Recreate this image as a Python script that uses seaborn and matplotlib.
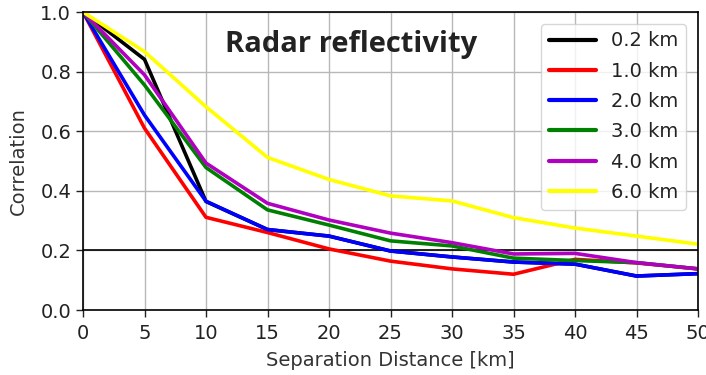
import numpy as np
import pandas as pd
import matplotlib
matplotlib.use("Agg")
import matplotlib.pyplot as plt
import seaborn as sns

# Separation distances (km) and correlation of radar reflectivity per height level
distance = [0, 5, 10, 15, 20, 25, 30, 35, 40, 45, 50]
corr_02 = [1.0, 0.841, 0.364, 0.270, 0.248, 0.198, 0.178, 0.161, 0.154, 0.114, 0.122]
corr_10 = [1.0, 0.610, 0.311, 0.260, 0.205, 0.164, 0.138, 0.120, 0.170, 0.158, 0.138]
corr_20 = [1.0, 0.654, 0.365, 0.270, 0.248, 0.198, 0.178, 0.161, 0.154, 0.114, 0.122]
corr_30 = [1.0, 0.755, 0.478, 0.336, 0.285, 0.232, 0.215, 0.174, 0.166, 0.159, 0.138]
corr_40 = [1.0, 0.789, 0.493, 0.358, 0.302, 0.258, 0.226, 0.188, 0.190, 0.159, 0.138]
corr_60 = [1.0, 0.867, 0.682, 0.512, 0.438, 0.383, 0.366, 0.310, 0.275, 0.248, 0.221]

labels = ["0.2 km", "1.0 km", "2.0 km", "3.0 km", "4.0 km", "6.0 km"]
colors = ["black", "red", "blue", "green", "#b000c0", "yellow"]
series = [corr_02, corr_10, corr_20, corr_30, corr_40, corr_60]

df = pd.concat(
    [pd.DataFrame({"distance": distance, "corr": s, "height": lab})
     for s, lab in zip(series, labels)],
    ignore_index=True,
)

sns.set_style("ticks", {"axes.grid": True, "grid.color": "#b8b8b8",
                        "axes.edgecolor": "black"})
plt.rcParams["font.family"] = ["DejaVu Sans"]

fig = plt.figure(figsize=(7.06, 3.75), dpi=100)
ax = fig.add_axes([83 / 706, 1 - 310 / 375, 615 / 706, 298 / 375])

sns.lineplot(data=df, x="distance", y="corr", hue="height",
             palette=dict(zip(labels, colors)), hue_order=labels,
             linewidth=2.6, ax=ax)

ax.axhline(0.2, color="black", linewidth=1.2, zorder=1.5)

ax.set_xlim(0, 50)
ax.set_ylim(0, 1.0)
ax.set_xticks(np.arange(0, 51, 5))
ax.set_yticks(np.arange(0, 1.01, 0.2))
ax.set_yticklabels([f"{v:.1f}" for v in np.arange(0, 1.01, 0.2)])
ax.tick_params(labelsize=14, colors="#222222", length=5, width=1)
ax.tick_params(axis="x", pad=5)
ax.grid(True, color="#b8b8b8", linewidth=1)
for sp in ax.spines.values():
    sp.set_color("black")
    sp.set_linewidth(1.2)

ax.set_xlabel("Separation Distance [km]", fontsize=14, color="#333333",
              labelpad=6)
ax.set_ylabel("Correlation", fontsize=14, color="#333333", labelpad=9)

leg = ax.legend(loc="upper right", fontsize=14, handlelength=2.4,
                framealpha=0.8, edgecolor="#cccccc", borderaxespad=0.6,
                labelspacing=0.58)
for h in leg.get_lines():
    h.set_linewidth(3)
for t in leg.get_texts():
    t.set_color("#222222")

ax.text(0.436, 0.866, "Radar reflectivity", transform=ax.transAxes,
        ha="center", va="baseline", fontsize=21, fontweight="bold",
        family=["Open Sans", "DejaVu Sans"], color="#222222")

fig.savefig("out.png", dpi=100)
